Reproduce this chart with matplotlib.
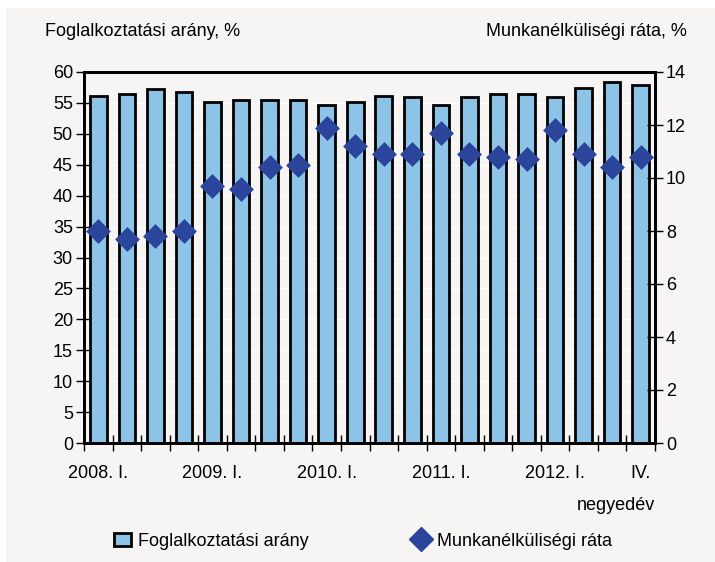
import matplotlib.pyplot as plt
from matplotlib.patches import Rectangle
from matplotlib.lines import Line2D
import numpy as np

plt.rcParams['font.family'] = ['Liberation Sans Narrow', 'Liberation Sans', 'DejaVu Sans']

# Data (2008 Q1 - 2012 Q4)
quarters = ['2008. I.', '', '', '', '2009. I.', '', '', '', '2010. I.', '', '', '',
            '2011. I.', '', '', '', '2012. I.', '', '', 'IV.']
employment = [56.1, 56.4, 57.2, 56.7, 55.1, 55.4, 55.4, 55.4, 54.6, 55.1,
              56.1, 55.9, 54.6, 55.9, 56.4, 56.4, 55.9, 57.4, 58.4, 57.9]
unemployment = [8.0, 7.7, 7.8, 8.0, 9.7, 9.6, 10.4, 10.5, 11.9, 11.2,
                10.9, 10.9, 11.7, 10.9, 10.8, 10.7, 11.8, 10.9, 10.4, 10.8]

bg = '#f6f5f3'
bar_color = '#8ec3e8'
diamond_color = '#2c459c'

fig = plt.figure(figsize=(7.15, 5.62), dpi=100, facecolor='white')
fig.patches.append(Rectangle((6 / 715, -0.01), 1, 1.01 - 8 / 562, transform=fig.transFigure,
                             facecolor=bg, edgecolor='none', zorder=-10))

ax = fig.add_axes([84 / 715, 1 - 443 / 562, 571 / 715, 371 / 562])
ax.set_facecolor(bg)
x = np.arange(len(employment))
ax.bar(x, employment, width=0.58, color=bar_color, edgecolor='black', linewidth=2, zorder=3)
for yv in range(5, 60, 5):
    ax.axhline(yv, color='white', linewidth=1, zorder=1)
ax.set_xlim(-0.5, len(employment) - 0.5)
ax.set_ylim(0, 60)
ax.set_yticks(range(0, 61, 5))
ax.set_xticks(np.arange(-0.5, len(employment), 1))
ax.set_xticklabels([])
ax.set_xticks(x, minor=True)
ax.set_xticklabels(quarters, minor=True)
ax.tick_params(axis='x', which='major', direction='inout', length=12, width=1)
ax.tick_params(axis='x', which='minor', length=0, pad=16, labelsize=13)
ax.tick_params(axis='y', direction='inout', length=12, width=1, labelsize=13, pad=2)
for s in ax.spines.values():
    s.set_linewidth(2)

ax2 = ax.twinx()
ax2.scatter(x, unemployment, marker='D', s=160, color=diamond_color, linewidths=0, zorder=5)
ax2.set_ylim(0, 14)
ax2.set_yticks(range(0, 15, 2))
ax2.tick_params(axis='y', direction='inout', length=12, width=1, labelsize=13, pad=2)
for s in ax2.spines.values():
    s.set_linewidth(2)

fig.text(45 / 715, 1 - 31 / 562, 'Foglalkoztatási arány, %', fontsize=13, va='center', ha='left')
fig.text(687 / 715, 1 - 31 / 562, 'Munkanélküliségi ráta, %', fontsize=13, va='center', ha='right')
fig.text(655 / 715, 1 - 505 / 562, 'negyedév', fontsize=13, va='center', ha='right')

handles = [Rectangle((0, 0), 1, 1, facecolor=bar_color, edgecolor='black', linewidth=2),
           Line2D([], [], marker='D', linestyle='none', color=diamond_color, markersize=12)]
fig.legend(handles, ['Foglalkoztatási arány', 'Munkanélküliségi ráta'],
           loc='center', bbox_to_anchor=(363 / 715, 1 - 541 / 562), ncol=2,
           frameon=False, fontsize=13, handlelength=0.9, handletextpad=0.4,
           columnspacing=5.8)

plt.savefig('out.png', dpi=100, facecolor=fig.get_facecolor())
